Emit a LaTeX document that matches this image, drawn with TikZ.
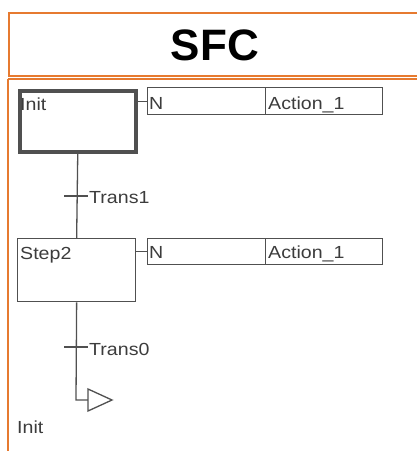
\documentclass[tikz,border=0pt]{standalone}
\usepackage{fontspec}
\setmainfont{Liberation Sans}
\newfontfamily\diafont[FakeStretch=1.12]{Liberation Sans}
\definecolor{frameorange}{RGB}{230,122,48}
\definecolor{linegray}{RGB}{80,80,80}
\definecolor{textgray}{RGB}{60,60,60}
\begin{document}
\begin{tikzpicture}[x=1pt,y=-1pt,
  panel/.style={draw=frameorange, line width=2pt},
  stepbox/.style={draw=linegray, line width=1.3pt, anchor=north west, inner sep=0pt, minimum width=118pt, minimum height=63pt},
  initbox/.style={stepbox, line width=3.5pt, minimum width=116pt, minimum height=61pt},
  actbox/.style={draw=linegray, line width=1.3pt, anchor=north west, inner sep=0pt, minimum height=27pt},
  txt/.style={text=textgray, font=\diafont\fontsize{17.5}{20}\selectfont, inner sep=0pt, anchor=base west},
  wire/.style={draw=linegray, line width=1.3pt}
]
\useasboundingbox (0,0) rectangle (417,451);
% frames
\draw[panel] (9,13) rectangle (440,76);
\node[font=\bfseries\fontsize{44}{48}\selectfont, inner sep=0pt] (title) at (215,45) {SFC};
\draw[panel] (8,79) -- (440,79);
\draw[panel] (8,79) -- (8,460);
% step Init
\node[initbox] (init) at (18,89) {};
\node[txt] (initlbl) at (20,110) {Init};
\node[actbox, minimum width=118pt] (n1) at (147,87) {};
\node[actbox, minimum width=117pt] (a1) at (265,87) {};
\node[txt] (n1lbl) at (149,109) {N};
\node[txt] (a1lbl) at (268,109) {Action\_1};
\draw[wire] (init.east |- n1.west) -- (n1.west);
% transition 1
\draw[wire] (64,196) -- (88,196);
\node[txt] (t1lbl) at (89,203) {Trans1};
% step 2
\node[stepbox] (step2) at (17,238) {};
\node[txt] (s2lbl) at (20,259) {Step2};
\node[actbox, minimum width=118pt, minimum height=26pt] (n2) at (147,238) {};
\node[actbox, minimum width=117pt, minimum height=26pt] (a2) at (265,238) {};
\node[txt] (n2lbl) at (149,258) {N};
\node[txt] (a2lbl) at (268,258) {Action\_1};
\draw[wire] (step2.east |- n2.west) -- (n2.west);
\draw[wire] (init.south) -- (step2.north);
% transition 0
\draw[wire] (64,347) -- (88,347);
\node[txt] (t0lbl) at (89,355) {Trans0};
% jump
\coordinate (jc) at (76,400);
\coordinate (jt) at (88,400);
\draw[wire] (step2.south) -- (jc) -- (jt);
\draw[wire, fill=white, line join=miter] (88,389) -- (112,400) -- (88,411) -- cycle;
\node[txt] (jlbl) at (17,433) {Init};
\end{tikzpicture}
\end{document}
